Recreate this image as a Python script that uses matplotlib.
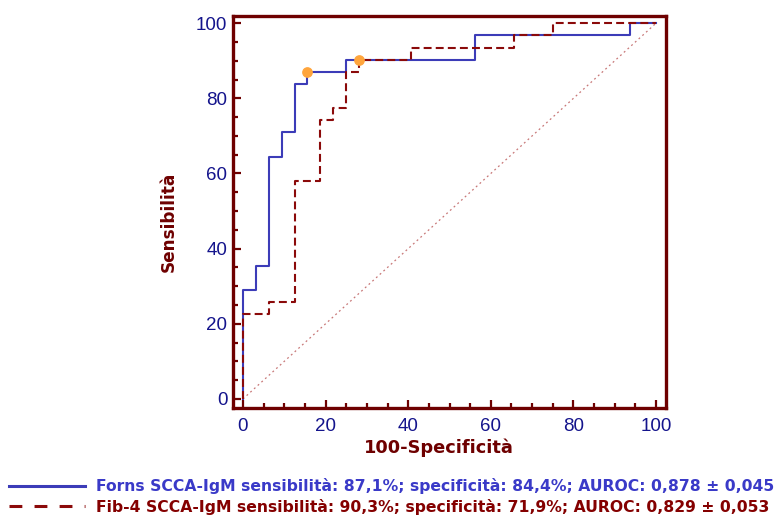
import matplotlib
matplotlib.use('Agg')
import matplotlib.pyplot as plt
from matplotlib.lines import Line2D
import numpy as np

plt.rcParams['font.family'] = ['Liberation Sans', 'DejaVu Sans']

# ROC corner points (100-specificity, sensitivity)
forns_x = [0, 0, 3.125, 6.25, 9.375, 12.5, 15.625, 25, 56.25, 93.75, 100]
forns_y = [0, 29.0, 35.5, 64.5, 71.0, 83.9, 87.1, 90.3, 96.8, 100, 100]
fib4_x = [0, 0, 6.25, 12.5, 18.75, 21.875, 25, 28.125, 40.625, 65.625, 75, 100]
fib4_y = [0, 22.6, 25.8, 58.1, 74.2, 77.4, 87.1, 90.3, 93.5, 96.8, 100, 100]

# optimal cut-off points
cut_x = [15.625, 28.125]
cut_y = [87.1, 90.3]

labels = ['Forns SCCA-IgM sensibilità: 87,1%; specificità: 84,4%; AUROC: 0,878 ± 0,045',
          'Fib-4 SCCA-IgM sensibilità: 90,3%; specificità: 71,9%; AUROC: 0,829 ± 0,053']

dark_red = '#6e0000'
blue = '#3c3cb8'
red = '#8b0a0a'
navy = '#14148c'

fig = plt.figure(figsize=(7.75, 5.16), dpi=100)
ax = fig.add_axes([233/775, 108/516, 433/775, 392/516])

ax.plot([0, 100], [0, 100], color='#c87878', lw=0.9, ls=(0, (1.5, 2.5)))
ax.plot(forns_x, forns_y, drawstyle='steps-post', color=blue, lw=1.5)
ax.plot(fib4_x, fib4_y, drawstyle='steps-post', color=red, lw=1.5, ls=(0, (3.8, 2)))
ax.scatter(cut_x, cut_y, s=45, color='#ffa53c', zorder=5)

ax.set_xlim(-2.4, 102.4)
ax.set_ylim(-2.4, 101.9)
ax.set_xticks(np.arange(0, 101, 20))
ax.set_yticks(np.arange(0, 101, 20))
ax.set_xticks(np.arange(0, 101, 5), minor=True)
ax.set_yticks(np.arange(0, 101, 5), minor=True)
ax.tick_params(which='both', direction='in', color=dark_red, width=1.6,
               labelcolor=navy, labelsize=13.5)
ax.tick_params(which='major', length=6)
ax.tick_params(which='minor', length=3.5)
ax.tick_params(axis='x', which='major', pad=7)
ax.tick_params(axis='y', which='major', pad=4)
for s in ax.spines.values():
    s.set_color(dark_red)
    s.set_linewidth(2.4)

ax.set_xlabel('100-Specificità', fontsize=12.8, fontweight='bold', color=dark_red,
              family='DejaVu Sans')
ax.xaxis.set_label_coords((439 - 233) / 433, -(448 - 408) / 392, transform=ax.transAxes)
ax.xaxis.label.set_va('center')
ax.set_ylabel('Sensibilità', fontsize=12.2, fontweight='bold', color=dark_red,
              family='DejaVu Sans')
ax.yaxis.set_label_coords(-(233 - 169) / 433, (408 - 221.5) / 392, transform=ax.transAxes)
ax.yaxis.label.set_va('center')

handles = [Line2D([], [], color=blue, lw=2.2),
           Line2D([], [], color=red, lw=2.2, ls=(0, (4.2, 4)))]
leg = fig.legend(handles, labels, loc='upper left', bbox_to_anchor=(9/775, 1 - 478/516),
                 frameon=False, prop={'weight': 'bold', 'size': 11.25, 'family': 'DejaVu Sans'},
                 handlelength=4.85, handletextpad=0.75, labelspacing=0.3,
                 borderaxespad=0, borderpad=0)
leg.get_texts()[0].set_color('#3a3ac8')
leg.get_texts()[1].set_color('#840000')

fig.savefig('out.png', dpi=100)
